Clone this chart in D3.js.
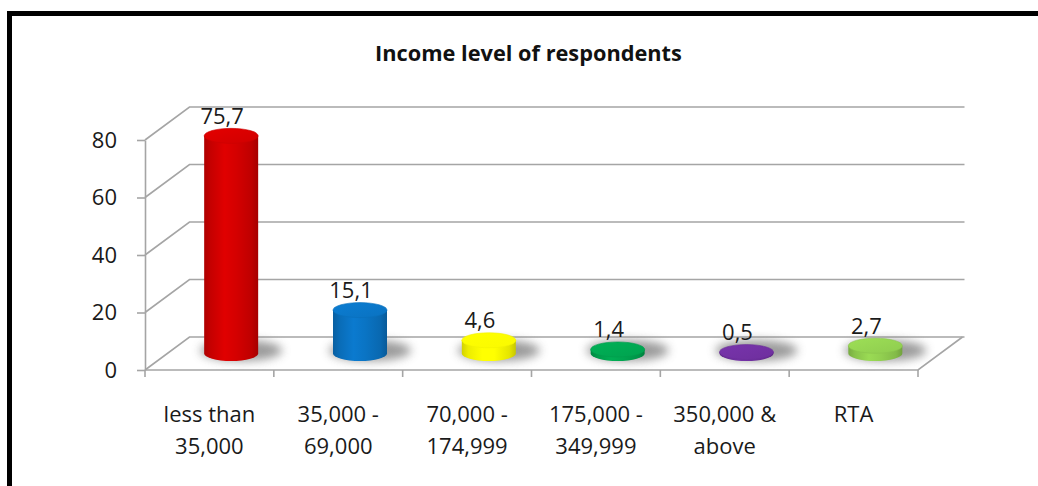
<!DOCTYPE html>
<html>
<head>
<meta charset="utf-8">
<script src="https://cdn.jsdelivr.net/npm/d3@7"></script>
<style>
  html, body { margin: 0; padding: 0; background: #fff; }
  svg { display: block; }
  text { font-family: "Open Sans", sans-serif; }
</style>
</head>
<body>
<svg id="chart" width="1038" height="486"></svg>
<script>
// ---- data ----
const title = "Income level of respondents";
const categories = ["less than 35,000", "35,000 - 69,000", "70,000 - 174,999", "175,000 - 349,999", "350,000 & above", "RTA"];
const categoryLines = [["less than", "35,000"], ["35,000 -", "69,000"], ["70,000 -", "174,999"], ["175,000 -", "349,999"], ["350,000 &", "above"], ["RTA"]];
const values = [75.7, 15.1, 4.6, 1.4, 0.5, 2.7];
const valueLabels = ["75,7", "15,1", "4,6", "1,4", "0,5", "2,7"];
const barColors = ["#d40000", "#0a74c4", "#ffff00", "#00a550", "#7030a0", "#92d050"];
const yTicks = [0, 20, 40, 60, 80];

(function () {
// ---- layout ----
const svg = d3.select("#chart");
const pLeft = 145, pRight = 918, pBottom = 370, pTop = 140;
const depthX = 44.5, depthY = -33;
const gridColor = "#a5a5a5";

const y = d3.scaleLinear().domain([0, 80]).range([pBottom, pTop]);
const x = d3.scaleBand().domain(categories).range([pLeft, pRight]);

const defs = svg.append("defs");
const blur = defs.append("filter").attr("id", "blur").attr("x", "-50%").attr("y", "-100%").attr("width", "200%").attr("height", "300%");
blur.append("feGaussianBlur").attr("stdDeviation", 5);

barColors.forEach((c, i) => {
  const base = d3.color(c);
  const g = defs.append("linearGradient").attr("id", "cyl" + i).attr("x1", "0%").attr("x2", "100%").attr("y1", "0%").attr("y2", "0%");
  const stops = [[0, base.darker(0.55)], [0.12, base.darker(0.2)], [0.38, base.brighter(0.15)], [0.6, base], [0.88, base.darker(0.3)], [1, base.darker(0.7)]];
  stops.forEach(([o, col]) => g.append("stop").attr("offset", o).attr("stop-color", col.formatHex()));
  const t = defs.append("linearGradient").attr("id", "top" + i).attr("x1", "0%").attr("x2", "100%").attr("y1", "0%").attr("y2", "100%");
  t.append("stop").attr("offset", 0).attr("stop-color", base.brighter(0.2).formatHex());
  t.append("stop").attr("offset", 1).attr("stop-color", base.darker(0.05).formatHex());
});

// border
svg.append("rect").attr("x", 9.5).attr("y", 13.5).attr("width", 1200).attr("height", 800)
  .attr("fill", "none").attr("stroke", "#000").attr("stroke-width", 5);

// title
const titleText = svg.append("text").attr("x", 528.5).attr("y", 60.5).attr("text-anchor", "middle")
  .attr("font-weight", "bold").attr("font-size", 20).attr("fill", "#111").text(title);
const tw = titleText.node().getComputedTextLength();
titleText.attr("font-size", 20 * 307 / tw);

// back wall + side wall gridlines
const grid = svg.append("g").attr("fill", "none").attr("stroke", gridColor).attr("stroke-width", 1.6);
grid.selectAll("path.g").data(yTicks).join("path").attr("class", "g")
  .attr("d", t => `M${pLeft},${y(t)} L${pLeft + depthX},${y(t) + depthY} L${pRight + depthX + 2},${y(t) + depthY}`);
// floor
grid.append("path").attr("d", `M${pLeft},${pBottom} L${pRight},${pBottom} L${pRight + depthX},${pBottom + depthY}`);

// y axis
const yAxis = d3.axisLeft(y).tickValues(yTicks).tickSizeInner(8).tickSizeOuter(0).tickPadding(20);
const ya = svg.append("g").attr("transform", `translate(${pLeft},0)`).call(yAxis);
ya.select(".domain").attr("stroke", gridColor).attr("stroke-width", 1.6);
ya.selectAll(".tick line").attr("stroke", gridColor).attr("stroke-width", 1.6);
ya.selectAll(".tick text").attr("font-size", 22).attr("fill", "#1a1a1a").attr("font-family", "Open Sans, sans-serif");

// x axis ticks at band boundaries
const bounds = categories.map(c => x(c)).concat([pRight]);
svg.append("g").selectAll("line").data(bounds).join("line")
  .attr("x1", d => d).attr("x2", d => d).attr("y1", pBottom).attr("y2", pBottom + 7)
  .attr("stroke", gridColor).attr("stroke-width", 1.6);

// category labels
const cl = svg.append("g").selectAll("text").data(categories).join("text")
  .attr("x", c => x(c) + x.bandwidth() / 2).attr("y", 422).attr("text-anchor", "middle")
  .attr("font-size", 22).attr("fill", "#1a1a1a");
cl.each(function (c, i) {
  const el = d3.select(this);
  categoryLines[i].forEach((ln, j) => {
    el.append("tspan").attr("x", x(c) + x.bandwidth() / 2).attr("dy", j === 0 ? 0 : 32).text(ln);
  });
});

// cylinders
const rx = 27, ry = 7.5;
const midX = depthX / 2, midY = depthY / 2;
const bars = svg.append("g");
categories.forEach((c, i) => {
  const cx = x(c) + x.bandwidth() / 2 + midX - 0.5;
  const base = pBottom + midY;
  bars.append("ellipse").attr("cx", cx + 10).attr("cy", base - 3).attr("rx", rx + 14).attr("ry", ry + 3)
    .attr("fill", "#7a7a7a").attr("opacity", 0.75).attr("filter", "url(#blur)");
});
categories.forEach((c, i) => {
  const cx = x(c) + x.bandwidth() / 2 + midX - 0.5;
  const base = pBottom + midY;
  const topY = y(values[i]) + midY;
  bars.append("path")
    .attr("d", `M${cx - rx},${topY} L${cx - rx},${base} A${rx},${ry} 0 0 0 ${cx + rx},${base} L${cx + rx},${topY} Z`)
    .attr("fill", `url(#cyl${i})`);
  bars.append("ellipse").attr("cx", cx).attr("cy", topY).attr("rx", rx).attr("ry", ry)
    .attr("fill", `url(#top${i})`).attr("stroke", d3.color(barColors[i]).darker(0.15).formatHex()).attr("stroke-width", 0.6);
  svg.append("text").attr("x", cx - 9).attr("y", topY - 12).attr("text-anchor", "middle")
    .attr("font-size", 22).attr("fill", "#1a1a1a").text(valueLabels[i]);
});
})();
</script>
</body>
</html>
